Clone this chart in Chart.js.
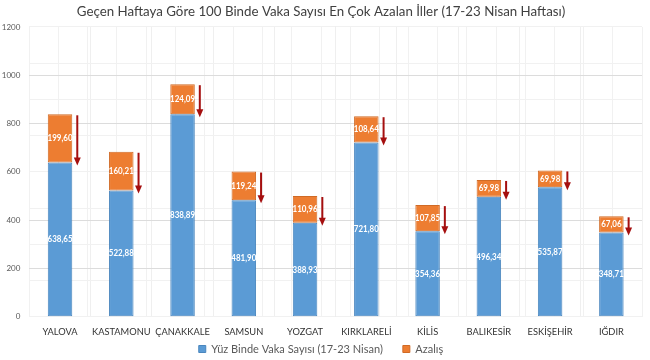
<!DOCTYPE html>
<html>
<head>
<meta charset="utf-8">
<script src="https://cdn.jsdelivr.net/npm/chart.js@4/dist/chart.umd.min.js"></script>
<style>
  html, body { margin: 0; padding: 0; background: #fff; }
  #wrap { width: 650px; height: 360px; position: relative; }
</style>
</head>
<body>
<div id="wrap"><canvas id="c" width="650" height="360"></canvas></div>
<script>
const categories = ["YALOVA","KASTAMONU","ÇANAKKALE","SAMSUN","YOZGAT","KIRKLARELİ","KİLİS","BALIKESİR","ESKİŞEHİR","IĞDIR"];
const currentCases = [638.65, 522.88, 838.89, 481.90, 388.93, 721.80, 354.36, 496.34, 535.87, 348.71];
const decrease = [199.60, 160.21, 124.09, 119.24, 110.96, 108.64, 107.85, 69.98, 69.98, 67.06];
const seriesNames = ["Yüz Binde Vaka Sayısı (17-23 Nisan)", "Azalış"];
const titleText = "Geçen Haftaya Göre 100 Binde Vaka Sayısı En Çok Azalan İller (17-23 Nisan Haftası)";
const yTicks = [0, 200, 400, 600, 800, 1000, 1200];

const FONT = "Lato, 'Open Sans', sans-serif";
const fmt = v => v.toFixed(2).replace('.', ',');

const labelsAndArrows = {
  id: 'labelsAndArrows',
  afterDatasetsDraw(chart) {
    const ctx = chart.ctx;
    const y = chart.scales.y;
    ctx.save();
    ctx.font = "bold 9.5px " + FONT;
    ctx.fillStyle = "#ffffff";
    ctx.textAlign = "center";
    ctx.textBaseline = "middle";
    chart.data.datasets.forEach((ds, di) => {
      const meta = chart.getDatasetMeta(di);
      meta.data.forEach((bar, i) => {
        const top = Math.min(bar.y, bar.base), bot = Math.max(bar.y, bar.base);
        ctx.save();
        ctx.translate(bar.x, (top + bot) / 2);
        ctx.scale(0.84, 1);
        ctx.fillText(fmt(ds.data[i]), 0, 0);
        ctx.restore();
      });
    });
    // arrows
    const meta0 = chart.getDatasetMeta(0);
    ctx.fillStyle = "#a50f0f";
    ctx.strokeStyle = "#a50f0f";
    meta0.data.forEach((bar, i) => {
      const ax = bar.x + bar.width / 2 + 5;
      const y1 = y.getPixelForValue(currentCases[i] + decrease[i]) + 1;
      const y2 = y.getPixelForValue(currentCases[i]) + 3;
      ctx.lineWidth = 2;
      ctx.beginPath();
      ctx.moveTo(ax, y1);
      ctx.lineTo(ax, y2 - 6);
      ctx.stroke();
      ctx.beginPath();
      ctx.moveTo(ax - 3.5, y2 - 8);
      ctx.lineTo(ax + 3.5, y2 - 8);
      ctx.lineTo(ax, y2);
      ctx.closePath();
      ctx.fill();
    });
    ctx.restore();
  }
};

new Chart(document.getElementById('c'), {
  type: 'bar',
  data: {
    labels: categories,
    datasets: [
      { label: seriesNames[0], data: currentCases, backgroundColor: "#5b9bd5", borderColor: "#4a86be", borderWidth: 1, borderSkipped: false, barPercentage: 0.4, categoryPercentage: 1 },
      { label: seriesNames[1], data: decrease, backgroundColor: "#ed7d31", borderColor: "#d06a25", borderWidth: 1, borderSkipped: false, barPercentage: 0.4, categoryPercentage: 1 }
    ]
  },
  options: {
    responsive: false,
    animation: false,
    layout: { padding: { left: 0, right: 8, top: 0, bottom: 0 } },
    plugins: {
      title: { display: true, text: titleText, color: "#404040", font: { family: FONT, size: 13.3, weight: 'normal' }, padding: { top: 4, bottom: 7 } },
      legend: {
        position: 'bottom',
        maxHeight: 20,
        labels: {
          boxWidth: 7, boxHeight: 7, color: "#595959", font: { family: FONT, size: 11 }, padding: 3.5,
          generateLabels: (chart) => {
            const items = Chart.defaults.plugins.legend.labels.generateLabels(chart);
            items.forEach((it, i) => { if (i < items.length - 1) it.text = it.text + "\u2003\u2003"; });
            return items;
          }
        }
      },
      tooltip: { enabled: false }
    },
    scales: {
      x: {
        stacked: true,
        grid: { color: "#efefef", drawTicks: false },
        border: { display: false },
        ticks: { color: "#333333", font: { family: FONT, size: 9.3 }, padding: 9.5, maxRotation: 0, autoSkip: false },
        afterFit: s => { s.height = 23.3; }
      },
      x2: {
        type: 'linear', position: 'bottom', min: -0.5, max: 9.5,
        ticks: { display: false, stepSize: 0.5 },
        grid: { color: "#f1f1f1", drawTicks: false },
        border: { display: false },
        afterFit: s => { s.height = 0; }
      },
      y: {
        stacked: true, min: 0, max: 1200,
        afterBuildTicks: s => { s.ticks = yTicks.map(v => ({ value: v })); },
        grid: { color: "#dcdcdc", drawTicks: false },
        border: { display: false },
        ticks: { color: "#595959", font: { family: FONT, size: 8 }, padding: 9, callback: v => String(v) },
        afterFit: s => { s.width = 29.4; }
      },
      y2: {
        type: 'linear', position: 'left', min: 0, max: 1200,
        ticks: { display: false, stepSize: 150 },
        grid: { color: "#f1f1f1", drawTicks: false },
        border: { display: false },
        afterFit: s => { s.width = 0; }
      }
    }
  },
  plugins: [labelsAndArrows]
});
</script>
</body>
</html>
